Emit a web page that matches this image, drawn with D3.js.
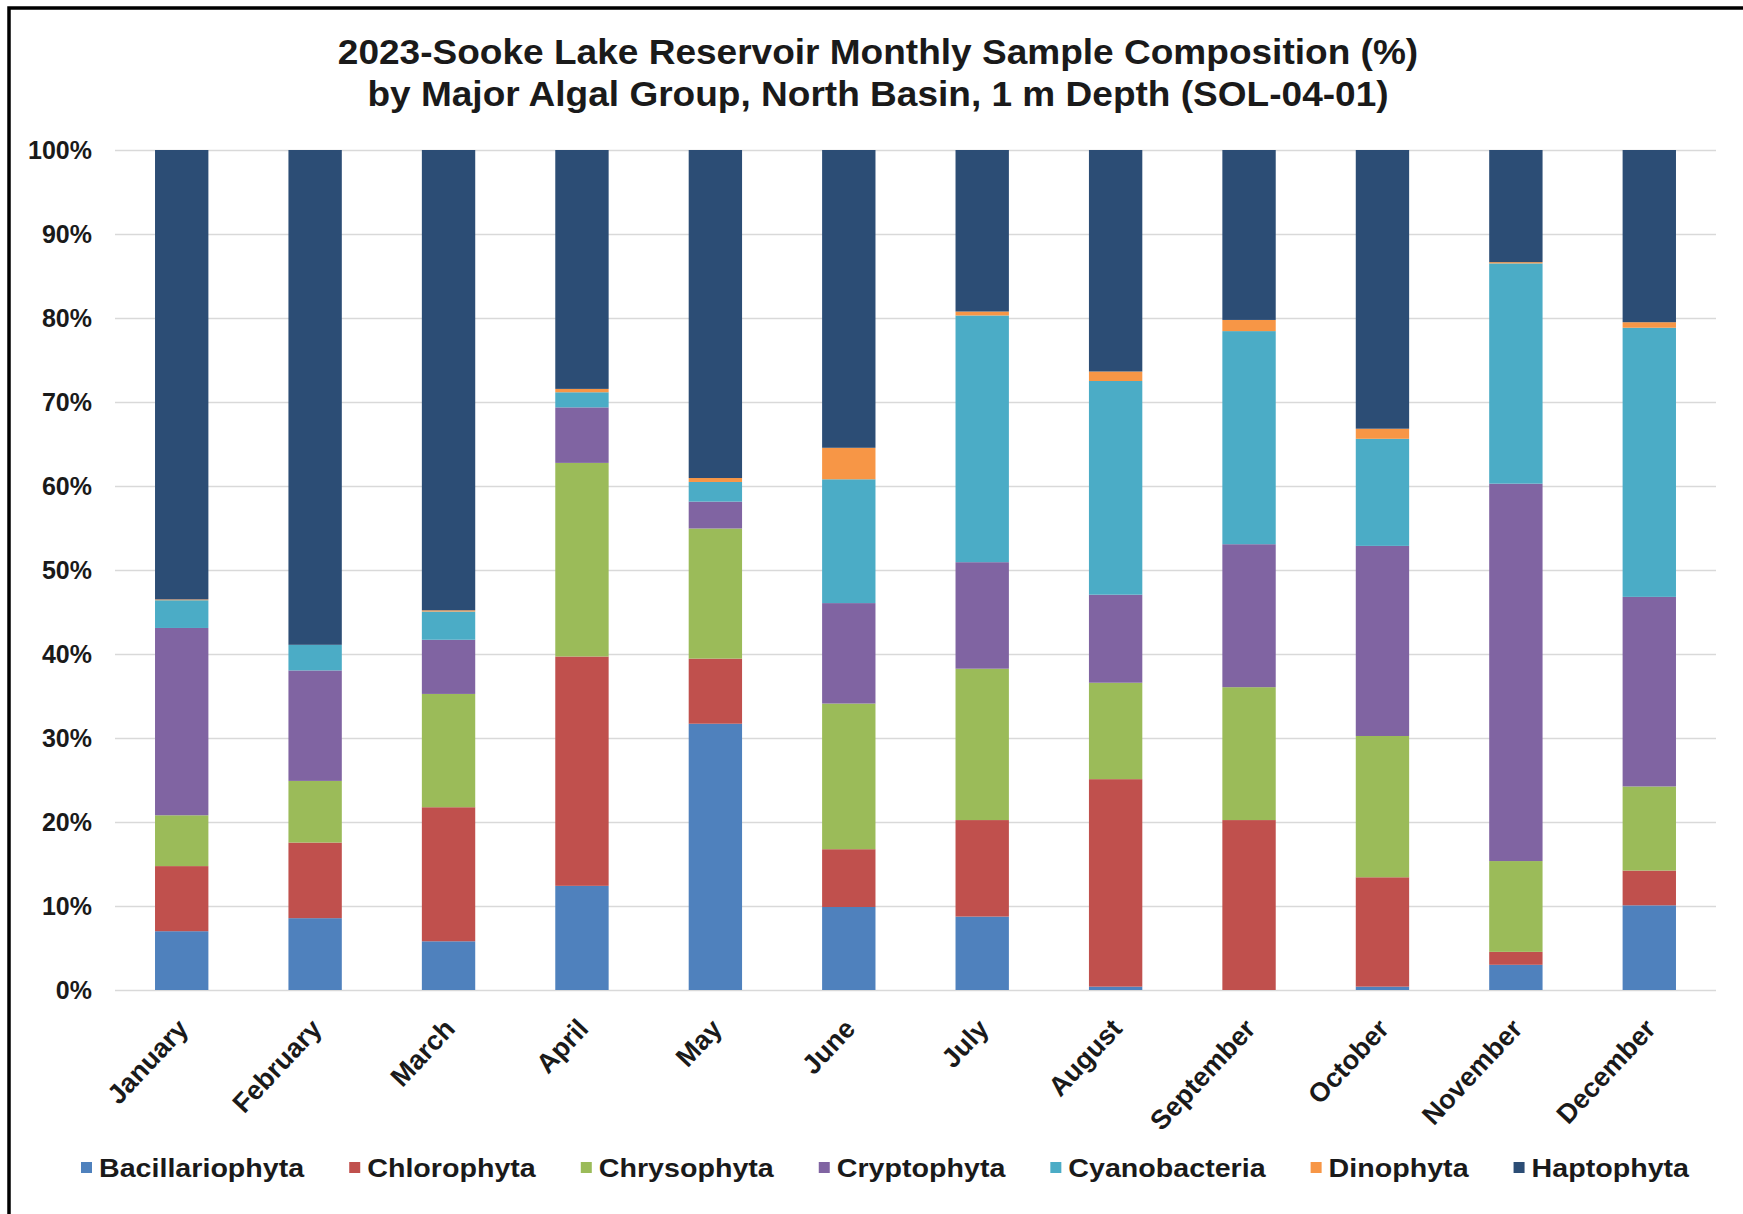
<!DOCTYPE html>
<html>
<head>
<meta charset="utf-8">
<script src="https://cdn.jsdelivr.net/npm/d3@7"></script>
<style>
  html, body { margin: 0; padding: 0; background: #ffffff; }
  svg { display: block; font-family: "Liberation Sans", Arial, sans-serif; }
</style>
</head>
<body>
<svg id="chart" width="1743" height="1214"></svg>
<script>
// ---- data (percent of monthly sample) ----
const months = ["January","February","March","April","May","June","July","August","September","October","November","December"];
const groups = ["Bacillariophyta","Chlorophyta","Chrysophyta","Cryptophyta","Cyanobacteria","Dinophyta","Haptophyta"];
const bacillariophyta = [7.0, 8.55, 5.8, 12.4, 31.7, 9.88, 8.74, 0.4, 0.0, 0.4, 3.0, 10.08];
const chlorophyta     = [7.75, 9.0, 15.96, 27.3, 7.75, 6.88, 11.49, 24.7, 20.23, 13.02, 1.54, 4.14];
const chrysophyta     = [6.05, 7.34, 13.49, 23.05, 15.49, 17.34, 18.02, 11.48, 15.82, 16.82, 10.81, 10.01];
const cryptophyta     = [22.3, 13.15, 6.45, 6.61, 3.2, 11.96, 12.68, 10.48, 17.02, 22.63, 44.93, 22.57];
const cyanobacteria   = [3.3, 3.05, 3.36, 1.8, 2.34, 14.74, 29.37, 25.44, 25.37, 12.75, 26.22, 32.04];
const dinophyta       = [0.1, 0.0, 0.15, 0.4, 0.47, 3.75, 0.47, 1.13, 1.33, 1.2, 0.15, 0.66];
const haptophyta      = [53.5, 58.9, 54.8, 28.44, 39.05, 35.45, 19.23, 26.37, 20.23, 33.18, 13.35, 20.5];
const yTicks = [0, 0.1, 0.2, 0.3, 0.4, 0.5, 0.6, 0.7, 0.8, 0.9, 1.0];
const titleLines = ["2023-Sooke Lake Reservoir Monthly Sample Composition (%)",
                    "by Major Algal Group, North Basin, 1 m Depth (SOL-04-01)"];
const colors = ["#4F81BD","#C0504D","#9BBB59","#8064A2","#4BACC6","#F79646","#2C4D75"];

const seriesValues = [bacillariophyta, chlorophyta, chrysophyta, cryptophyta, cyanobacteria, dinophyta, haptophyta];
const rows = months.map((m, i) => {
  const r = { month: m };
  groups.forEach((g, k) => { r[g] = seriesValues[k][i]; });
  return r;
});

// ---- layout ----
const svg = d3.select("#chart");
const W = 1743, H = 1214;
const plot = { left: 115, right: 1716, top: 150, bottom: 990 };

function stretchText(sel, factor) {
  sel.each(function () {
    const w = this.getComputedTextLength() * factor;
    d3.select(this).attr("textLength", w).attr("lengthAdjust", "spacingAndGlyphs");
  });
}

svg.append("rect").attr("width", W).attr("height", H).attr("fill", "#fff");
// frame (only top & left edges visible in the reference crop)
svg.append("rect").attr("x", 9).attr("y", 8).attr("width", W + 20).attr("height", H + 20)
  .attr("fill", "none").attr("stroke", "#000").attr("stroke-width", 3.5);

const x = d3.scaleBand().domain(months).range([plot.left, plot.right]).paddingInner(0.6).paddingOuter(0.3);
const y = d3.scaleLinear().domain([0, 1]).range([plot.bottom, plot.top]);
const color = d3.scaleOrdinal().domain(groups).range(colors);

// gridlines + y axis
const yAxis = d3.axisLeft(y).tickValues(yTicks).tickFormat(d3.format(".0%"))
  .tickSize(-(plot.right - plot.left)).tickPadding(23);
const gy = svg.append("g").attr("transform", `translate(${plot.left},0)`).call(yAxis);
gy.select(".domain").remove();
gy.selectAll(".tick line").attr("stroke", "#d9d9d9").attr("stroke-width", 1.5);
gy.selectAll(".tick text").attr("font-size", 25).attr("font-weight", "bold")
  .attr("fill", "#1a1a1a").attr("font-family", "Liberation Sans, Arial, sans-serif");

// stacked bars
const stack = d3.stack().keys(groups).offset(d3.stackOffsetExpand);
const stacked = stack(rows);
svg.append("g").selectAll("g").data(stacked).join("g")
  .attr("fill", d => color(d.key))
  .selectAll("rect").data(d => d).join("rect")
  .attr("x", d => x(d.data.month))
  .attr("width", x.bandwidth())
  .attr("y", d => y(d[1]))
  .attr("height", d => Math.max(0, y(d[0]) - y(d[1])));

// x axis labels
const xAxis = d3.axisBottom(x).tickSize(0).tickPadding(0);
const gx = svg.append("g").attr("transform", `translate(0,${plot.bottom})`).call(xAxis);
gx.select(".domain").remove();
gx.selectAll(".tick text")
  .attr("font-size", 27).attr("font-weight", "bold").attr("fill", "#1a1a1a")
  .attr("font-family", "Liberation Sans, Arial, sans-serif")
  .attr("text-anchor", "end").attr("dy", null).attr("y", null)
  .attr("transform", "translate(8,40) rotate(-47)");

// title
const titles = svg.append("g").selectAll("text").data(titleLines).join("text")
  .attr("x", 878).attr("y", (d, i) => 64 + i * 42)
  .attr("text-anchor", "middle").attr("font-size", 35).attr("font-weight", "bold")
  .attr("fill", "#1a1a1a").text(d => d);
stretchText(titles, 1.058);

// legend
const legend = svg.append("g");
const items = legend.selectAll("g").data(groups).join("g");
items.append("rect").attr("width", 11).attr("height", 11).attr("y", -15).attr("fill", d => color(d));
const labels = items.append("text").attr("x", 18).attr("font-size", 25).attr("font-weight", "bold")
  .attr("fill", "#1a1a1a").text(d => d);
stretchText(labels, 1.145);
const widths = [];
labels.each(function () { widths.push(+d3.select(this).attr("textLength")); });
const gap = 45;
const itemW = widths.map(w => 18 + w);
const total = d3.sum(itemW) + gap * (groups.length - 1);
let cx = 885 - total / 2;
items.attr("transform", (d, i) => {
  const t = `translate(${cx},1177)`;
  cx += itemW[i] + gap;
  return t;
});
</script>
</body>
</html>
